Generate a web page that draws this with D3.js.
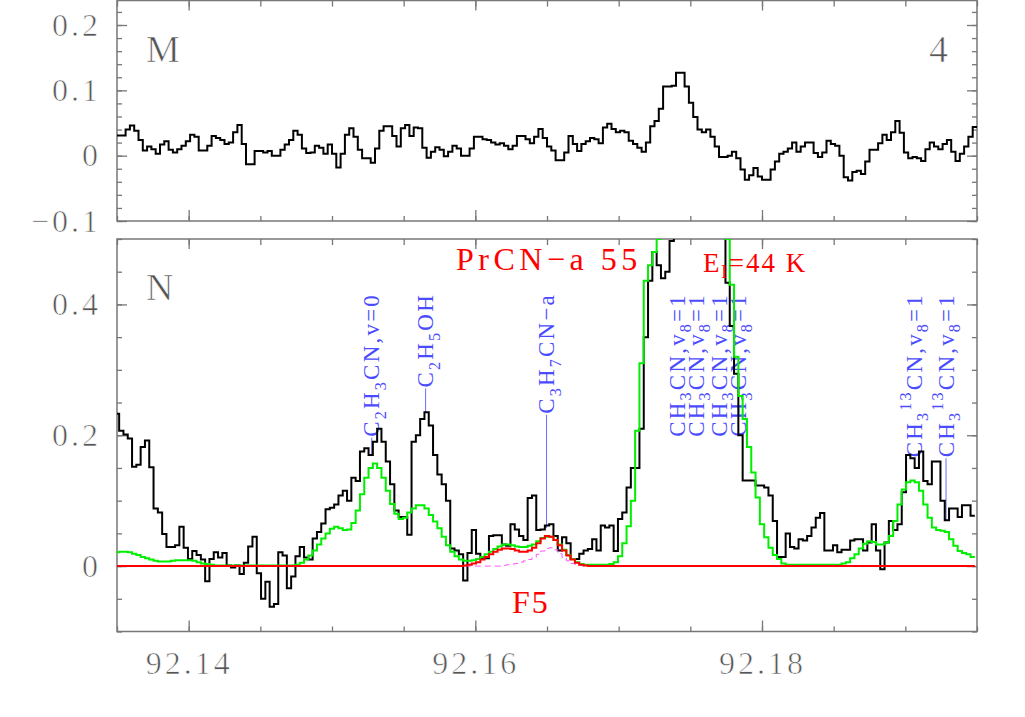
<!DOCTYPE html>
<html>
<head>
<meta charset="utf-8">
<script src="https://cdn.jsdelivr.net/npm/d3@7"></script>
<style>
body { margin: 0; background: #fff; }
text { font-family: "Liberation Serif", serif; }
</style>
</head>
<body>
<script>
// ---- data ----
var freqDomain = [92.135, 92.195];
var chanWidth = 0.0003;
var topStart = 92.135;
var botStart = 92.13485;

var topM = [
 0.031,0.031,0.040,0.046,0.038,0.024,0.008,0.014,0.010,0.003,
 0.017,0.022,0.009,0.005,0.010,0.015,0.022,0.032,0.029,0.008,
 0.008,0.015,0.030,0.027,0.024,0.018,0.020,0.036,0.047,0.018,
 -0.013,-0.013,0.007,0.007,0.005,0.007,0.000,0.000,0.009,0.017,
 0.024,0.038,0.032,0.011,0.004,0.005,0.015,0.012,0.003,0.017,
 0.003,-0.018,0.003,0.032,0.042,0.029,0.009,-0.004,-0.004,-0.011,
 0.011,0.038,0.045,0.045,0.030,0.014,0.042,0.047,0.030,0.043,
 0.042,0.012,-0.003,0.006,0.013,0.009,-0.001,0.006,0.015,0.011,
 0.000,0.000,0.011,0.029,0.029,0.025,0.024,0.020,0.017,0.019,
 0.015,0.010,0.015,0.030,0.030,0.025,0.019,0.029,0.041,0.027,
 0.014,0.008,-0.007,-0.007,0.005,0.030,0.018,0.007,0.018,0.022,
 0.027,0.025,0.019,0.043,0.049,0.041,0.036,0.038,0.036,0.023,
 0.018,0.012,0.006,0.020,0.045,0.053,0.072,0.106,0.106,0.107,
 0.127,0.127,0.106,0.081,0.059,0.040,0.036,0.040,0.029,0.014,
 -0.002,-0.002,0.000,0.006,-0.004,-0.021,-0.037,-0.030,-0.019,-0.032,
 -0.037,-0.037,-0.021,-0.009,0.003,0.006,0.011,0.020,0.006,0.014,
 0.020,0.020,0.004,-0.002,0.005,0.023,0.018,0.015,0.000,-0.033,
 -0.038,-0.025,-0.023,-0.028,-0.009,0.009,0.009,0.019,0.032,0.024,
 0.036,0.053,0.035,0.005,-0.004,-0.002,-0.004,-0.008,0.010,0.020,
 0.014,0.010,0.018,0.024,0.006,-0.008,0.003,0.014,0.029,0.044
];

var botN = [
 0.233,0.207,0.201,0.195,0.152,0.155,0.182,0.192,0.151,0.088,
 0.082,0.049,0.029,0.029,0.032,0.060,0.028,0.011,0.023,0.017,
 0.010,-0.023,0.011,0.021,0.013,0.020,0.001,-0.002,0.001,-0.012,
 0.005,0.030,0.045,-0.011,-0.050,-0.024,-0.062,-0.058,0.021,0.016,
 -0.034,-0.016,0.015,0.029,0.013,0.010,0.042,0.052,0.065,0.087,
 0.089,0.094,0.108,0.115,0.100,0.135,0.130,0.175,0.180,0.170,
 0.190,0.210,0.190,0.160,0.125,0.085,0.075,0.075,0.048,0.190,
 0.200,0.225,0.235,0.215,0.170,0.140,0.125,0.100,0.027,0.024,
 0.018,-0.022,0.020,0.055,0.019,0.012,0.012,0.046,0.047,0.047,
 0.033,0.031,0.064,0.056,0.046,0.040,0.104,0.108,0.055,0.056,
 0.062,0.064,0.046,0.024,0.044,0.035,0.011,0.011,0.019,0.024,
 0.026,0.041,0.024,0.062,0.059,0.062,0.023,0.072,0.082,0.120,
 0.150,0.150,0.210,0.350,0.436,0.480,0.460,0.440,0.450,0.497,
 0.620,0.750,0.850,0.950,1.000,1.000,0.950,0.900,0.850,0.750,
 0.650,0.550,0.433,0.367,0.294,0.200,0.131,0.131,0.131,0.123,
 0.123,0.120,0.108,0.069,0.014,0.014,0.050,0.029,0.027,0.041,
 0.039,0.046,0.059,0.074,0.081,0.024,0.024,0.032,0.021,0.025,
 0.025,0.039,0.041,0.041,0.024,0.036,0.064,0.024,-0.005,0.036,
 0.069,0.055,0.064,0.113,0.170,0.165,0.150,0.175,0.130,0.125,
 0.160,0.160,0.100,0.070,0.088,0.088,0.075,0.093,0.093,0.077
];

var modelGreen = [
 0.021,0.022,0.022,0.021,0.019,0.017,0.014,0.012,0.010,0.008,
 0.007,0.007,0.007,0.008,0.009,0.009,0.009,0.009,0.008,0.006,
 0.004,0.003,0.002,0.001,0.001,0.001,0.001,0.001,0.001,0.001,
 0.001,0.001,0.001,0.001,0.001,0.001,0.001,0.001,0.001,0.001,
 0.001,0.001,0.002,0.005,0.010,0.016,0.024,0.033,0.042,0.050,
 0.057,0.060,0.058,0.055,0.056,0.066,0.085,0.110,0.135,0.150,
 0.157,0.150,0.135,0.115,0.095,0.080,0.072,0.074,0.082,0.088,
 0.093,0.093,0.088,0.078,0.068,0.058,0.045,0.032,0.022,0.015,
 0.010,0.008,0.008,0.009,0.011,0.014,0.018,0.022,0.026,0.030,
 0.033,0.033,0.032,0.030,0.029,0.029,0.031,0.033,0.038,0.043,
 0.045,0.045,0.040,0.033,0.025,0.017,0.011,0.006,0.003,0.002,
 0.002,0.002,0.002,0.002,0.002,0.003,0.006,0.015,0.035,0.061,
 0.100,0.207,0.310,0.436,0.460,0.480,0.500,0.560,0.650,0.750,
 0.850,0.950,1.000,1.000,0.950,0.900,0.850,0.800,0.750,0.700,
 0.650,0.600,0.500,0.430,0.320,0.260,0.225,0.182,0.143,0.105,
 0.064,0.044,0.028,0.017,0.011,0.004,0.002,0.002,0.002,0.002,
 0.002,0.002,0.002,0.002,0.002,0.002,0.002,0.002,0.002,0.004,
 0.006,0.012,0.018,0.027,0.034,0.038,0.037,0.033,0.033,0.036,
 0.046,0.069,0.094,0.117,0.128,0.131,0.128,0.115,0.094,0.074,
 0.059,0.055,0.054,0.052,0.041,0.031,0.023,0.020,0.018,0.014
];

// red (PrCN-a total) and magenta (single component) models: non-zero part
var redFirst = 80;
var modelRed = [
 0.000,0.001,0.002,0.004,0.006,0.010,0.014,0.018,0.022,0.025,
 0.027,0.027,0.026,0.024,0.022,0.022,0.024,0.028,0.035,0.042,
 0.046,0.045,0.040,0.032,0.024,0.016,0.010,0.005,0.002,0.001
];
var magentaFirst = 88;
var modelMagenta = [
 0.000,0.000,0.001,0.002,0.003,0.004,0.006,0.008,0.010,0.013,
 0.018,0.023,0.027,0.028,0.025,0.019,0.013,0.008,0.004,0.002,
 0.001,0.000
];

var xMajorTicks = [92.14, 92.16, 92.18];
var topYMajor = [-0.1, 0, 0.1, 0.2];
var botYMajor = [0, 0.2, 0.4];

var lineLabels = [
 { freq: 92.15277, name: "C_2H_3CN,v=0", tip: 0.17 },
 { freq: 92.15653, name: "C_2H_5OH", tip: 0.235 },
 { freq: 92.16497, name: "C_3H_7CN\u2212a", tip: 0.058 },
 { freq: 92.17409, name: "CH_3CN,v_8=1", tip: null },
 { freq: 92.17542, name: "CH_3CN,v_8=1", tip: null },
 { freq: 92.17702, name: "CH_3CN,v_8=1", tip: null },
 { freq: 92.17834, name: "CH_3CN,v_8=1", tip: null },
 { freq: 92.19061, name: "CH_3^{13}CN,v_8=1", tip: null },
 { freq: 92.19284, name: "CH_3^{13}CN,v_8=1", tip: 0.07 }
];

// ---- layout ----
var W = 1025, H = 717;
var left = 117, right = 977;
var frameCol = "#777", labelCol = "#555";

var svg = d3.select("body").append("svg")
    .attr("width", W).attr("height", H);

var x = d3.scaleLinear().domain(freqDomain).range([left, right]);
var yTop = d3.scaleLinear().domain([-0.1, 0.2375]).range([221, 0.5]);
var yBot = d3.scaleLinear().domain([-0.1, 0.5]).range([631.5, 239]);

function pad(first, vals, n) {
    var out = [];
    for (var i = 0; i < n; i++) {
        var j = i - first;
        out.push(j >= 0 && j < vals.length ? vals[j] : 0);
    }
    return out;
}

function stepPoints(vals, f0) {
    var pts = vals.map(function(v, i) { return [f0 + i * chanWidth, v]; });
    pts.push([f0 + vals.length * chanWidth, vals[vals.length - 1]]);
    return pts;
}

function stepLine(y) {
    return d3.line().curve(d3.curveStepAfter)
        .x(function(d) { return x(d[0]); })
        .y(function(d) { return y(d[1]); });
}

// thin grey "plotter" look for the big black labels
function thin(sel) {
    sel.attr("stroke", "#fff").attr("stroke-width", 0.7);
}

function drawFrame(y, majorY, minorStep, xLabels, id) {
    var y0 = y.range()[1], y1 = y.range()[0];
    var g = svg.append("g");

    svg.append("clipPath").attr("id", id)
        .append("rect").attr("x", left).attr("y", y0)
        .attr("width", right - left).attr("height", y1 - y0);

    var dom = y.domain();
    var minorY = d3.range(Math.round(dom[0] / minorStep), Math.floor(dom[1] / minorStep + 1e-6) + 1)
        .map(function(k) { return +(k * minorStep).toFixed(4); });
    var minorX = d3.range(0, 13).map(function(k) { return 92.135 + k * 0.005; });

    // minor ticks, all four sides
    g.append("g").attr("transform", "translate(" + left + ",0)")
        .call(d3.axisLeft(y).tickValues(minorY).tickSize(-5).tickFormat(""));
    g.append("g").attr("transform", "translate(" + right + ",0)")
        .call(d3.axisRight(y).tickValues(minorY).tickSize(-5).tickFormat(""));
    g.append("g").attr("transform", "translate(0," + y1 + ")")
        .call(d3.axisBottom(x).tickValues(minorX).tickSize(-5).tickFormat(""));
    g.append("g").attr("transform", "translate(0," + y0 + ")")
        .call(d3.axisTop(x).tickValues(minorX).tickSize(-6).tickFormat(""));

    // major ticks
    g.append("g").attr("transform", "translate(" + left + ",0)")
        .call(d3.axisLeft(y).tickValues(majorY).tickSize(-10).tickPadding(16)
            .tickFormat(d3.format("")));
    g.append("g").attr("transform", "translate(" + right + ",0)")
        .call(d3.axisRight(y).tickValues(majorY).tickSize(-10).tickFormat(""));
    g.append("g").attr("transform", "translate(0," + y1 + ")")
        .call(d3.axisBottom(x).tickValues(xMajorTicks).tickSize(-11).tickPadding(20)
            .tickFormat(xLabels ? d3.format(".2f") : ""));
    g.append("g").attr("transform", "translate(0," + y0 + ")")
        .call(d3.axisTop(x).tickValues(xMajorTicks).tickSize(-10).tickFormat(""));

    g.selectAll(".domain").remove();
    g.selectAll(".tick line").attr("stroke", frameCol).attr("stroke-width", 1.3);
    g.selectAll(".tick text")
        .attr("fill", labelCol)
        .style("font-family", "Liberation Serif")
        .style("font-size", "32px")
        .style("letter-spacing", "3px")
        .call(thin);

    svg.append("rect").attr("x", left).attr("y", y0)
        .attr("width", right - left).attr("height", y1 - y0)
        .attr("fill", "none").attr("stroke", frameCol).attr("stroke-width", 1.5);
}

drawFrame(yTop, topYMajor, 0.02, false, "clipTop");
drawFrame(yBot, botYMajor, 0.05, true, "clipBot");

// ---- panel letters ----
function panelText(t, px, py, anchor) {
    svg.append("text").attr("x", px).attr("y", py)
        .attr("text-anchor", anchor || "start")
        .attr("fill", "#555").style("font-size", "38px").text(t)
        .call(thin);
}
panelText("M", 146, 62);
panelText("4", 948, 62, "end");
panelText("N", 146, 300);

// ---- line identifications ----
var labCol = "#4b4bff";
var labG = svg.append("g");
var labelTop = 293;

function addRich(textSel, s) {
    var re = /_(.)|\^\{([^}]*)\}|([^_^]+)/g, m, shift = 0;
    while ((m = re.exec(s)) !== null) {
        var t, dy, size;
        if (m[1] !== undefined) { t = m[1]; dy = 0.28; size = "70%"; }
        else if (m[2] !== undefined) { t = m[2]; dy = -0.45; size = "70%"; }
        else { t = m[3]; dy = 0; size = null; }
        var ts = textSel.append("tspan").text(t);
        var want = dy * 23;
        if (want - shift !== 0) ts.attr("dy", want - shift);
        shift = want;
        if (size) ts.style("font-size", size);
    }
}

lineLabels.forEach(function(d) {
    var px = x(d.freq);
    var t = labG.append("text")
        .attr("transform", "translate(" + px + "," + labelTop + ") rotate(-90)")
        .attr("text-anchor", "end")
        .attr("dy", "0.33em")
        .attr("fill", labCol)
        .style("font-size", "23px")
        .style("letter-spacing", "2.2px");
    addRich(t, d.name);
    var len = t.node().getComputedTextLength();
    if (d.tip !== null) {
        var yStart = labelTop + len + 1;
        var yEnd = yBot(d.tip);
        if (yEnd > yStart) {
            labG.append("line").attr("x1", px).attr("x2", px)
                .attr("y1", yStart).attr("y2", yEnd)
                .attr("stroke", "#6a6aff").attr("stroke-width", 1);
        }
    }
});

// ---- spectra ----
svg.append("path")
    .datum(stepPoints(topM, topStart))
    .attr("clip-path", "url(#clipTop)")
    .attr("d", stepLine(yTop))
    .attr("fill", "none").attr("stroke", "#000").attr("stroke-width", 2);

var nb = botN.length;
var bot = svg.append("g").attr("clip-path", "url(#clipBot)");

bot.append("path").datum(stepPoints(botN, botStart))
    .attr("d", stepLine(yBot))
    .attr("fill", "none").attr("stroke", "#000").attr("stroke-width", 2);

bot.append("path").datum(stepPoints(modelGreen, botStart))
    .attr("d", stepLine(yBot))
    .attr("fill", "none").attr("stroke", "#00ee00").attr("stroke-width", 2);

bot.append("path").datum(stepPoints(pad(magentaFirst, modelMagenta, nb), botStart))
    .attr("d", stepLine(yBot))
    .attr("fill", "none").attr("stroke", "#ff55ff").attr("stroke-width", 1)
    .attr("stroke-dasharray", "6,4");

bot.append("path").datum(stepPoints(pad(redFirst, modelRed, nb), botStart))
    .attr("d", stepLine(yBot))
    .attr("fill", "none").attr("stroke", "#ff0000").attr("stroke-width", 2);

// ---- red annotations ----
svg.append("text").attr("x", 456).attr("y", 270)
    .attr("fill", "#ff0000").style("font-size", "32px").style("letter-spacing", "4.5px")
    .text("PrCN\u2212a 55");

var el = svg.append("text").attr("x", 703).attr("y", 272)
    .attr("fill", "#ff0000").style("font-size", "27px").style("letter-spacing", "2px");
el.append("tspan").text("E");
el.append("tspan").attr("dy", 6).style("font-size", "70%").text("l");
el.append("tspan").attr("dy", -6).text("=44 K");

svg.append("text").attr("x", 512).attr("y", 613)
    .attr("fill", "#ff0000").style("font-size", "32px").style("letter-spacing", "2px")
    .text("F5");
</script>
</body>
</html>
